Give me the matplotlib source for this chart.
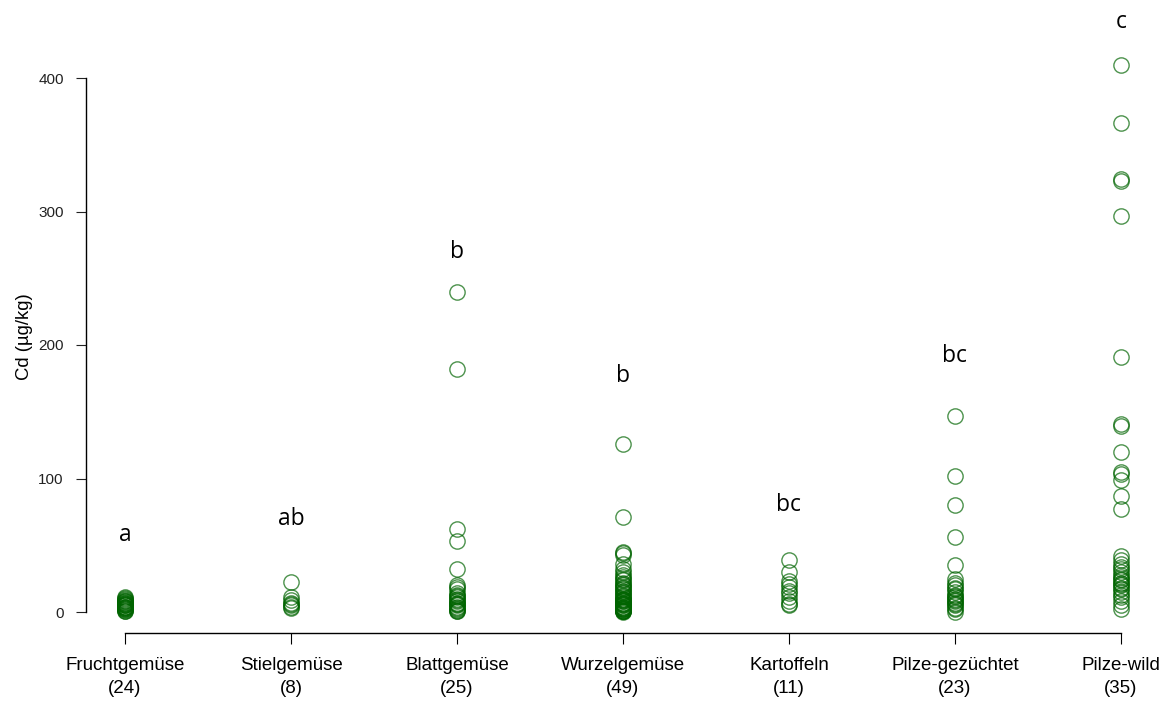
import matplotlib.pyplot as plt

plt.rcParams['font.family'] = ['Liberation Sans', 'DejaVu Sans']

# Cd-Gehalte je Gemüsegruppe (µg/kg)
kategorien = ["Fruchtgemüse", "Stielgemüse", "Blattgemüse", "Wurzelgemüse",
              "Kartoffeln", "Pilze-gezüchtet", "Pilze-wild"]
anzahl = [24, 8, 25, 49, 11, 23, 35]
buchstaben = ["a", "ab", "b", "b", "bc", "bc", "c"]
buchstaben_y = [58, 70, 270, 177, 80, 192, 442]

fruchtgemuese = [0.5, 1, 1.5, 2, 2.5, 3, 3, 3.5, 4, 4, 5, 5, 5.5, 6, 6, 7, 7,
                 7.5, 8, 8.5, 9, 10, 10.5, 11]
stielgemuese = [22.5, 11, 9, 7, 6, 5, 4, 3]
blattgemuese = [240, 182, 62, 53, 32, 20, 19, 17, 14, 13, 12, 11, 10, 9, 8, 7,
                6, 6, 5, 4, 3, 2, 1.5, 1, 0.5]
wurzelgemuese = [126, 71, 45, 44, 43, 36, 32, 30, 28, 26, 25, 24, 22, 21, 20,
                 19, 18, 17, 16, 15, 14, 13, 12, 11, 10, 10, 9, 9, 8, 8, 7, 7,
                 6, 6, 5, 5, 4, 4, 3, 3, 2.5, 2, 2, 1.5, 1, 1, 0.5, 0.5, 0]
kartoffeln = [39, 30, 23, 21, 19, 16, 14, 11, 8, 6, 5]
pilze_gezuechtet = [147, 102, 80, 56, 35, 25, 22, 20, 18, 17, 15, 13, 12, 11,
                    10, 9, 8, 7, 6, 5, 3, 2, 0]
pilze_wild = [410, 366, 324, 323, 297, 191, 141, 139, 120, 105, 103, 99, 87,
              77, 42, 39, 36, 34, 32, 30, 28, 26, 25, 24, 22, 21, 20, 18, 17,
              15, 13, 11, 8, 5, 2]

werte = [fruchtgemuese, stielgemuese, blattgemuese, wurzelgemuese,
         kartoffeln, pilze_gezuechtet, pilze_wild]

W, H = 1162, 702
fig = plt.figure(figsize=(W / 100, H / 100), dpi=100)
ax = fig.add_axes([86 / W, 1 - 633 / H, (1150 - 86) / W, (633 - 20) / H])

for i, ys in enumerate(werte, start=1):
    ax.plot([i] * len(ys), ys, linestyle="none", marker="o", markersize=11,
            markerfacecolor="none", markeredgecolor="#006400",
            markeredgewidth=1.0, alpha=0.7, clip_on=False)
    ax.text(i, buchstaben_y[i - 1], buchstaben[i - 1], ha="center",
            va="center", fontsize=16.5, family=["Open Sans", "DejaVu Sans"])

ax.set_xlim(1 - 39 / 166, 7 + 29 / 166)
ax.set_ylim((612 - 633) / 1.335, (612 - 20) / 1.335)

for s in ["top", "right"]:
    ax.spines[s].set_visible(False)
ax.spines["left"].set_bounds(0, 400)
ax.spines["bottom"].set_bounds(1, 7)
ax.spines["left"].set_linewidth(1.0)
ax.spines["bottom"].set_linewidth(1.0)

ax.set_yticks([0, 100, 200, 300, 400])
ax.set_xticks(range(1, 8))
ax.set_xticklabels([f"{k}\n({n})" for k, n in zip(kategorien, anzahl)],
                   linespacing=1.5)
ax.tick_params(axis="y", length=7, pad=9, labelsize=11, colors="#222222")
ax.tick_params(axis="x", length=8, pad=9, labelsize=13.5)
ax.set_ylabel("Cd (µg/kg)", fontsize=13.3)
ax.yaxis.set_label_coords(-0.05, 0.483)

fig.savefig("out.png", dpi=100)
